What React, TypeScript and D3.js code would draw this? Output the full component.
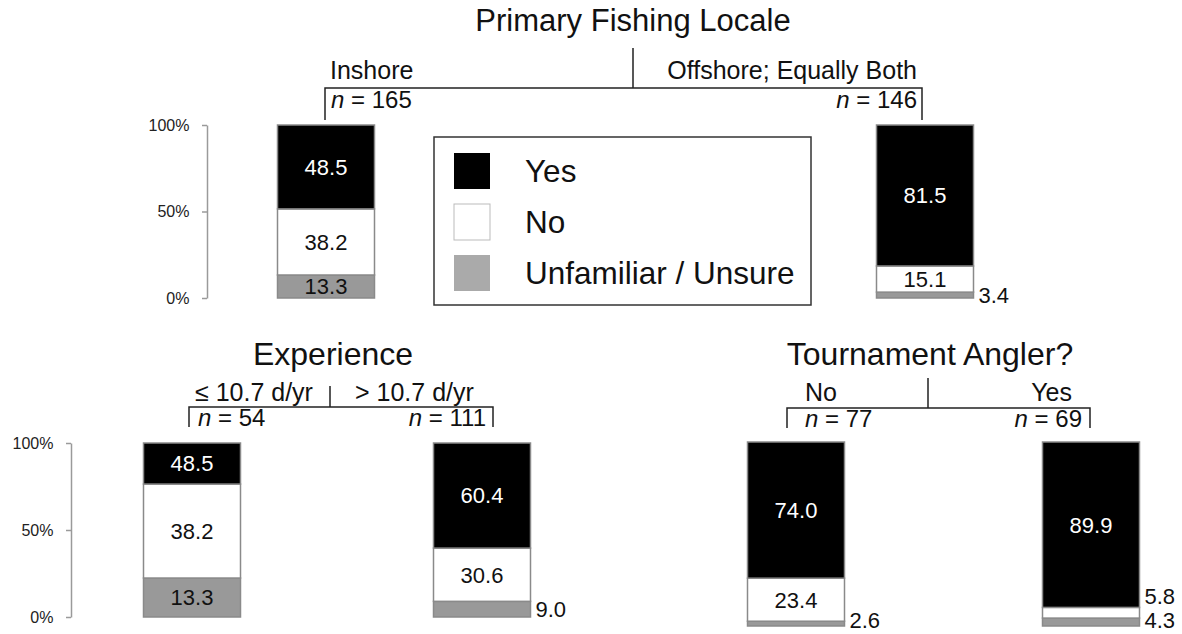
import React, { useEffect, useRef } from 'react'
import * as d3 from 'd3'

// response categories, stacked bottom -> top
const responses = ['Unfamiliar / Unsure', 'No', 'Yes']
const fills = ['#999999', '#ffffff', '#000000']
const pctTicks = [0, 50, 100]

// Primary Fishing Locale
const localeGroups = ['Inshore', 'Offshore; Equally Both']
const localeN = [165, 146]
const localeYes = [48.5, 81.5]
const localeNo = [38.2, 15.1]
const localeUnsure = [13.3, 3.4]

// Experience (left bar printed labels differ from drawn heights in the source)
const expGroups = ['≤ 10.7 d/yr', '> 10.7 d/yr']
const expN = [54, 111]
const expYes = [23.6, 60.4]
const expNo = [54.0, 30.6]
const expUnsure = [22.4, 9.0]
const expYesLabel = [48.5, 60.4]
const expNoLabel = [38.2, 30.6]
const expUnsureLabel = [13.3, 9.0]

// Tournament Angler?
const tournGroups = ['No', 'Yes']
const tournN = [77, 69]
const tournYes = [74.0, 89.9]
const tournNo = [23.4, 5.8]
const tournUnsure = [2.6, 4.3]

const FONT = "'Liberation Sans', Arial, Helvetica, sans-serif"

type Panel = {
  title: string
  titleX: number
  titleY: number
  titleSize: number
  groups: string[]
  n: number[]
  yes: number[]
  no: number[]
  unsure: number[]
  labels?: number[][] // [unsure, no, yes] per group
  centers: [number, number]
  yRange: [number, number]
  br: { left: number, right: number, lineY: number, tickY: number, stemX: number, stemTop: number }
  lab: { lx: number, rx: number, ranchor: string, y: number, nlx: number, nrx: number, ny: number }
}

const drawPanel = (svg: any, p: Panel) => {
  const g = svg.append('g')
  const x = d3.scalePoint().domain(p.groups).range(p.centers)
  const y = d3.scaleLinear().domain([0, 100]).range(p.yRange)
  const bw = 97

  const rows = p.groups.map((name, i) => ({
    name, unsure: p.unsure[i], no: p.no[i], yes: p.yes[i],
  }))
  const keys = ['unsure', 'no', 'yes']
  const series = d3.stack().keys(keys)(rows as any)

  series.forEach((s: any, k: number) => {
    g.selectAll(null).data(s).join('rect')
      .attr('x', (d: any) => x(d.data.name)! - bw / 2)
      .attr('width', bw)
      .attr('y', (d: any) => y(d[1]))
      .attr('height', (d: any) => y(d[0]) - y(d[1]))
      .attr('fill', fills[k])
      .attr('stroke', '#8a8a8a')
      .attr('stroke-width', 1.5)
  })

  // value labels; small segments go outside to the right
  p.groups.forEach((name, i) => {
    let lastOut = 620
    series.forEach((s: any, k: number) => {
      const d = s[i]
      const h = y(d[0]) - y(d[1])
      const cy = (y(d[0]) + y(d[1])) / 2
      const val = p.labels ? p.labels[k][i] : d[1] - d[0]
      const txt = d3.format('.1f')(val)
      const inside = h >= 22
      let ty = cy
      if (!inside) {
        ty = Math.min(cy, lastOut)
        lastOut = ty - 24
      }
      g.append('text')
        .attr('x', inside ? x(name)! : x(name)! + bw / 2 + 5)
        .attr('y', ty)
        .attr('dy', '0.36em')
        .attr('text-anchor', inside ? 'middle' : 'start')
        .attr('font-size', 22)
        .attr('fill', inside && keys[k] === 'yes' ? '#fff' : '#111')
        .text(txt)
    })
  })

  // bracket
  const b = p.br
  g.append('path')
    .attr('d', `M${b.left},${b.tickY}V${b.lineY}H${b.right}V${b.tickY}M${b.stemX},${b.stemTop}V${b.lineY}`)
    .attr('fill', 'none').attr('stroke', '#222').attr('stroke-width', 1.5)

  g.append('text').attr('x', p.titleX).attr('y', p.titleY)
    .attr('text-anchor', 'middle').attr('font-size', p.titleSize).attr('fill', '#111').text(p.title)

  const L = p.lab
  g.append('text').attr('x', L.lx).attr('y', L.y).attr('font-size', 25).attr('fill', '#111').text(p.groups[0])
  g.append('text').attr('x', L.rx).attr('y', L.y).attr('text-anchor', L.ranchor)
    .attr('font-size', 25).attr('fill', '#111').text(p.groups[1])

  const nText = (tx: number, anchor: string, n: number) => {
    const t = g.append('text').attr('x', tx).attr('y', L.ny).attr('text-anchor', anchor)
      .attr('font-size', 24).attr('fill', '#111')
    t.append('tspan').attr('font-style', 'italic').text('n')
    t.append('tspan').text(` = ${n}`)
  }
  nText(L.nlx, 'start', p.n[0])
  nText(L.nrx, 'end', p.n[1])

  return y
}

const drawAxis = (svg: any, y: any, ax: number) => {
  const a = svg.append('g')
    .attr('transform', `translate(${ax},0)`)
    .call(d3.axisLeft(y).tickValues(pctTicks).tickFormat((d: any) => `${d}%`).tickSize(5).tickSizeOuter(0))
  a.selectAll('path, line').attr('stroke', '#9a9a9a').attr('stroke-width', 1.5)
  a.selectAll('text').attr('font-size', 16).attr('font-family', FONT).attr('fill', '#222').attr('dx', '-0.6em')
}

const App = () => {
  const ref = useRef<SVGSVGElement>(null)

  useEffect(() => {
    const svg = d3.select(ref.current)
    svg.selectAll('*').remove()
    svg.attr('font-family', FONT)

    const yTop = drawPanel(svg, {
      title: 'Primary Fishing Locale', titleX: 633, titleY: 31, titleSize: 31,
      groups: localeGroups, n: localeN, yes: localeYes, no: localeNo, unsure: localeUnsure,
      centers: [326, 925], yRange: [298, 125],
      br: { left: 325, right: 922, lineY: 88, tickY: 120, stemX: 633, stemTop: 48 },
      lab: { lx: 330, rx: 917, ranchor: 'end', y: 79, nlx: 331, nrx: 917, ny: 108 },
    })
    drawAxis(svg, yTop, 207)

    const yExp = drawPanel(svg, {
      title: 'Experience', titleX: 333, titleY: 365, titleSize: 32,
      groups: expGroups, n: expN, yes: expYes, no: expNo, unsure: expUnsure,
      labels: [expUnsureLabel, expNoLabel, expYesLabel],
      centers: [192, 482], yRange: [617, 443],
      br: { left: 189, right: 493, lineY: 407, tickY: 427, stemX: 330, stemTop: 386 },
      lab: { lx: 195, rx: 355, ranchor: 'start', y: 401, nlx: 198, nrx: 486, ny: 426 },
    })
    drawAxis(svg, yExp, 71)

    drawPanel(svg, {
      title: 'Tournament Angler?', titleX: 930, titleY: 365, titleSize: 32,
      groups: tournGroups, n: tournN, yes: tournYes, no: tournNo, unsure: tournUnsure,
      centers: [796, 1091], yRange: [626, 442],
      br: { left: 787, right: 1090, lineY: 408, tickY: 428, stemX: 928, stemTop: 378 },
      lab: { lx: 805, rx: 1072, ranchor: 'end', y: 401, nlx: 805, nrx: 1082, ny: 427 },
    })

    // legend
    const lg = svg.append('g')
    lg.append('rect').attr('x', 434).attr('y', 137).attr('width', 377).attr('height', 168)
      .attr('fill', '#fff').attr('stroke', '#333').attr('stroke-width', 1.5)
    const order = [2, 1, 0]
    const item = lg.selectAll('g.item').data(order).join('g').attr('class', 'item')
      .attr('transform', (_d: number, i: number) => `translate(454,${153 + i * 51})`)
    item.append('rect').attr('width', 36).attr('height', 36)
      .attr('fill', (d: number) => d === 0 ? '#aaaaaa' : fills[d]).attr('stroke', (d: number) => d === 1 ? '#bbb' : 'none')
    item.append('text').attr('x', 71).attr('y', 29).attr('font-size', 31.5).attr('fill', '#111')
      .text((d: number) => responses[d])
  }, [])

  return <svg ref={ref} width={1182} height={634} style={{ position: 'absolute', left: 0, top: 0, background: '#fff' }} />
}

export default App
